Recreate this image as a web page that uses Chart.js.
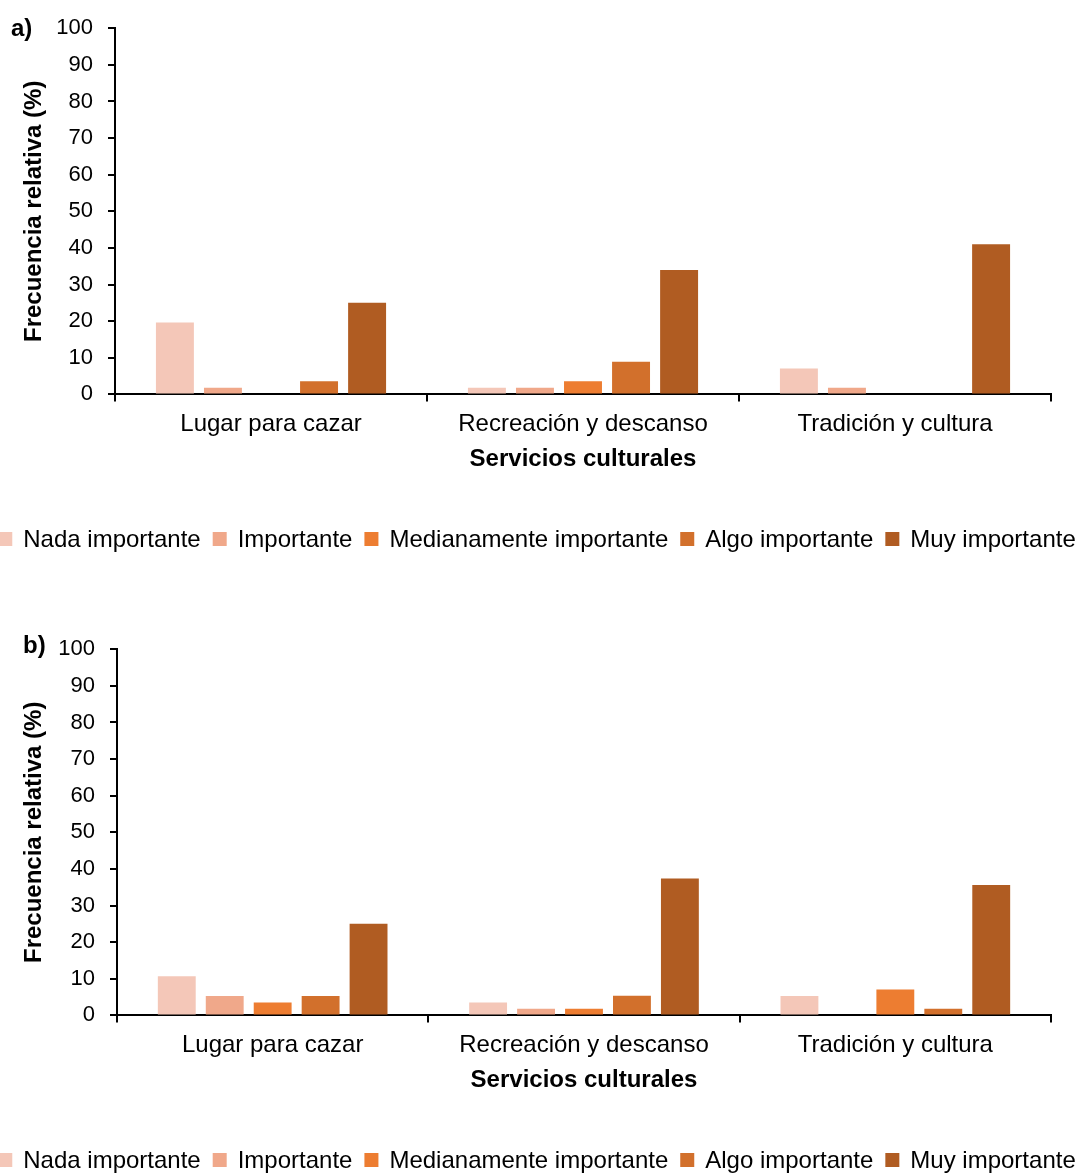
<!DOCTYPE html>
<html lang="es">
<head>
<meta charset="utf-8">
<title>Servicios culturales – frecuencia relativa</title>
<script src="https://cdn.jsdelivr.net/npm/chart.js@4"></script>
<style>
  html, body { margin: 0; padding: 0; background: #fff; }
  body { width: 1078px; height: 1174px; position: relative; overflow: hidden; }
  .panel { position: absolute; left: 0; width: 1078px; height: 553px; }
  #panelA { top: 0; }
  #panelB { top: 621px; }
</style>
</head>
<body>
<div class="panel" id="panelA"><canvas id="chartA" width="1078" height="553"></canvas></div>
<div class="panel" id="panelB"><canvas id="chartB" width="1078" height="553"></canvas></div>
<script>
// Categorías del eje X
const categorias = ['Lugar para cazar', 'Recreación y descanso', 'Tradición y cultura'];

// Niveles de importancia (series)
const niveles = ['Nada importante', 'Importante', 'Medianamente importante', 'Algo importante', 'Muy importante'];
const colores = ['#F4C7B8', '#F0A88A', '#ED7D31', '#D2702C', '#B05C22'];

// Panel a) – frecuencia relativa (%) por categoría
const a_nada       = [19.6, 1.8, 7.1];
const a_importante = [1.8, 1.8, 1.8];
const a_mediana    = [0, 3.6, 0];
const a_algo       = [3.6, 8.9, 0];
const a_muy        = [25.0, 34.0, 41.0];

// Panel b) – frecuencia relativa (%) por categoría
const b_nada       = [10.7, 3.5, 5.3];
const b_importante = [5.3, 1.8, 0];
const b_mediana    = [3.5, 1.8, 7.1];
const b_algo       = [5.3, 5.4, 1.8];
const b_muy        = [25.0, 37.4, 35.6];

// Marcas del eje Y
const yTicks = [0, 10, 20, 30, 40, 50, 60, 70, 80, 90, 100];

const FONT = '"Liberation Sans", Arial, Helvetica, sans-serif';

// Leyenda horizontal y etiqueta del panel, dibujadas sobre el lienzo
const panelDecor = {
  id: 'panelDecor',
  afterDraw(chart, args, opts) {
    const ctx = chart.ctx;
    ctx.save();
    // etiqueta del panel
    ctx.font = 'bold 24px ' + FONT;
    ctx.fillStyle = '#000';
    ctx.textAlign = 'left';
    ctx.textBaseline = 'middle';
    ctx.fillText(opts.panel, opts.panelX, opts.panelY);

    // leyenda
    ctx.font = '24px ' + FONT;
    const box = 14, gap = 11, spacing = 12;
    const items = chart.data.datasets.map(ds => ({
      text: ds.label, color: ds.backgroundColor, w: ctx.measureText(ds.label).width
    }));
    const total = items.reduce((s, it) => s + box + gap + it.w, 0) + spacing * (items.length - 1);
    let x = chart.width / 2 - total / 2 - 2;
    const y = opts.legendY;
    items.forEach(it => {
      ctx.fillStyle = it.color;
      ctx.fillRect(x, y - box / 2, box, box);
      ctx.fillStyle = '#000';
      ctx.fillText(it.text, x + box + gap, y + 1);
      x += box + gap + it.w + spacing;
    });
    ctx.restore();
  }
};

function makeChart(id, series, panel, axisLeft, panelX, panelY) {
  return new Chart(document.getElementById(id), {
    type: 'bar',
    data: {
      labels: categorias,
      datasets: niveles.map((n, i) => ({
        label: n,
        data: series[i],
        backgroundColor: colores[i],
        borderWidth: 0,
        categoryPercentage: 0.77,
        barPercentage: 0.79
      }))
    },
    options: {
      responsive: false,
      animation: false,
      devicePixelRatio: 1,
      layout: { padding: { top: 14, right: 27, bottom: 79, left: 0 } },
      plugins: {
        legend: { display: false },
        tooltip: { enabled: false },
        panelDecor: { panel: panel, panelX: panelX, panelY: panelY, legendY: 539 }
      },
      scales: {
        x: {
          grid: { display: true, drawOnChartArea: false, drawTicks: true, tickLength: 7, color: '#000', lineWidth: 2, offset: true },
          border: { display: true, color: '#000', width: 2 },
          ticks: { color: '#000', font: { family: FONT, size: 24 }, padding: 9 },
          title: { display: true, text: 'Servicios culturales', color: '#000', font: { family: FONT, size: 24, weight: 'bold' }, padding: { top: -3, bottom: 0 } }
        },
        y: {
          min: 0, max: 100,
          afterBuildTicks(scale) { scale.ticks = yTicks.map(v => ({ value: v })); },
          afterFit(scale) { scale.width = axisLeft; },
          grid: { display: true, drawOnChartArea: false, drawTicks: true, tickLength: 7, color: '#000', lineWidth: 2 },
          border: { display: true, color: '#000', width: 2 },
          ticks: { color: '#000', font: { family: FONT, size: 22 }, padding: 15 },
          title: { display: true, text: 'Frecuencia relativa (%)', color: '#000', font: { family: FONT, size: 24, weight: 'bold' }, padding: { top: 20, bottom: 4 } }
        }
      }
    },
    plugins: [panelDecor]
  });
}

makeChart('chartA', [a_nada, a_importante, a_mediana, a_algo, a_muy], 'a)', 115, 11, 29);
makeChart('chartB', [b_nada, b_importante, b_mediana, b_algo, b_muy], 'b)', 117, 23, 25);
</script>
</body>
</html>
